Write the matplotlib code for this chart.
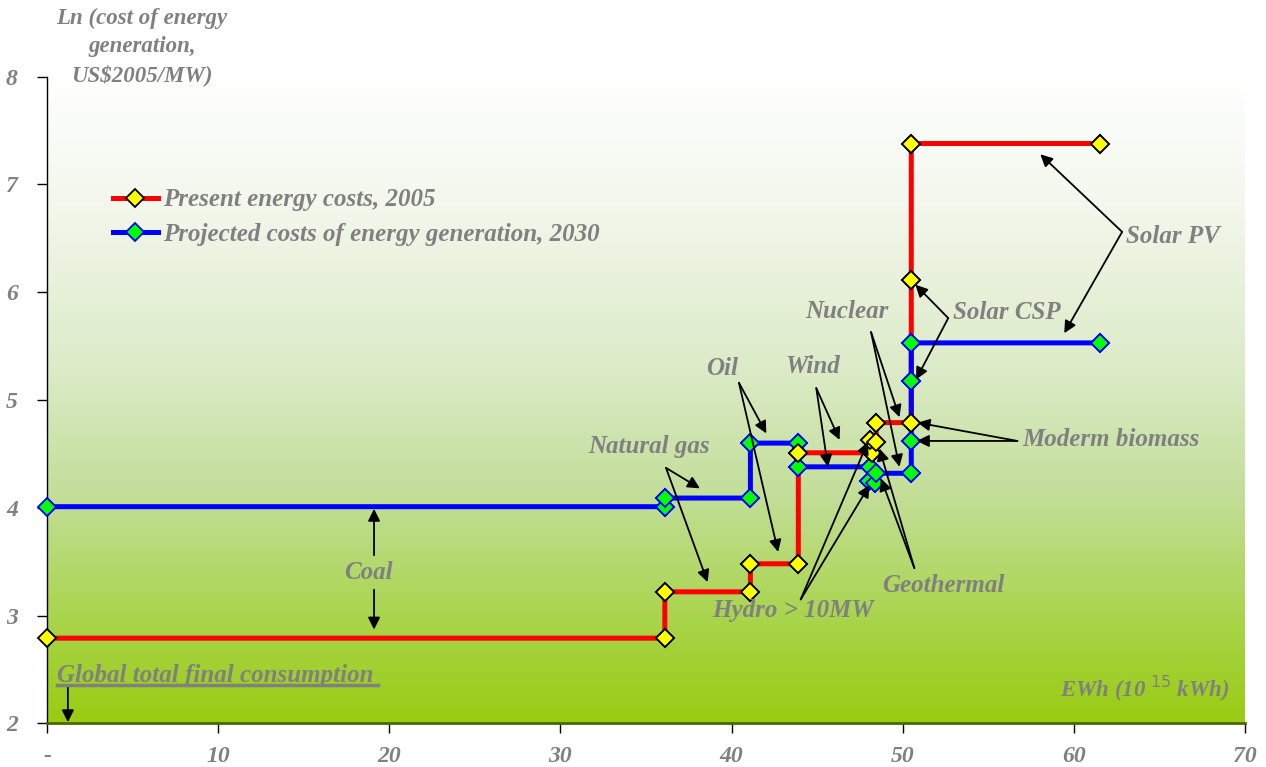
import numpy as np
import matplotlib
matplotlib.use("Agg")
import matplotlib.pyplot as plt
from matplotlib.colors import LinearSegmentedColormap
from matplotlib.lines import Line2D

# cumulative energy (EWh) and ln(cost) for each step of the supply curve
x_2005 = [0, 36.1, 36.1, 41.1, 41.1, 43.9, 43.9, 48.2, 48.1, 48.45, 48.45, 50.5, 50.5, 50.5, 61.55]
y_2005 = [2.79, 2.79, 3.22, 3.22, 3.48, 3.48, 4.51, 4.51, 4.63, 4.61, 4.79, 4.79, 6.11, 7.38, 7.38]

x_2030 = [0, 36.1, 36.1, 41.1, 41.1, 43.9, 43.9, 48.1, 48.05, 48.4, 48.45, 50.5, 50.5, 50.5, 50.5, 61.55]
y_2030 = [4.01, 4.01, 4.09, 4.09, 4.60, 4.60, 4.38, 4.38, 4.25, 4.23, 4.32, 4.32, 4.62, 5.18, 5.53, 5.53]

xticks = [0, 10, 20, 30, 40, 50, 60, 70]
xticklabels = ['-', '10', '20', '30', '40', '50', '60', '70']
yticks = [2, 3, 4, 5, 6, 7, 8]

GRAY = '#808080'
FONT = dict(family='Liberation Serif', weight='bold', style='italic', color=GRAY)

fig = plt.figure(figsize=(12.66, 7.67), dpi=100)
ax = fig.add_axes([47/1266, 1-723.3/767, 1198/1266, 646.6/767])

# background gradient (white -> yellow green)
cmap = LinearSegmentedColormap.from_list('bg', [(0.0, '#99cc11'), (0.15, '#a8d448'),
                                                (0.35, '#c2de98'), (0.55, '#dcebc8'),
                                                (0.8, '#f3f7ec'), (1.0, '#ffffff')])
grad = np.linspace(0, 1, 256).reshape(-1, 1)
ax.imshow(grad, extent=[0, 70, 2, 8], aspect='auto', cmap=cmap, origin='lower', zorder=0)

l1, = ax.plot(x_2005, y_2005, color='#ff0000', lw=3.6, zorder=2,
              marker='D', ms=9, mfc='#ffff00', mec='black', mew=1.3)
l2, = ax.plot(x_2030, y_2030, color='#0000ff', lw=3.6, zorder=2,
              marker='D', ms=9, mfc='#00ff00', mec='#0000ff', mew=1.3)
# markers on top of lines
ax.plot(x_2005, y_2005, ls='none', marker='D', ms=9, mfc='#ffff00', mec='black', mew=1.3,
        zorder=4, clip_on=False)
ax.plot(x_2030, y_2030, ls='none', marker='D', ms=9, mfc='#00ff00', mec='#0000ff', mew=1.3,
        zorder=3, clip_on=False)

ax.set_xlim(0, 70)
ax.set_ylim(2, 8)
ax.set_xticks(xticks)
ax.set_xticklabels(xticklabels)
ax.set_yticks(yticks)
for lab in ax.get_xticklabels() + ax.get_yticklabels():
    lab.set_fontfamily('Liberation Serif')
    lab.set_fontweight('bold')
    lab.set_fontstyle('italic')
    lab.set_color(GRAY)
    lab.set_fontsize(17)
ax.tick_params(axis='y', direction='out', length=7, width=1, pad=14)
ax.tick_params(axis='x', direction='out', length=7, width=1, pad=9)
for s in ['top', 'right']:
    ax.spines[s].set_visible(False)
ax.spines['left'].set_linewidth(1)
ax.spines['bottom'].set_color('#4d6600')
ax.spines['bottom'].set_linewidth(2)

leg = ax.legend([l1, l2], ['Present energy costs, 2005', 'Projected costs of energy generation, 2030'],
                loc='upper left', bbox_to_anchor=(0.036, 0.862), frameon=False,
                handlelength=1.8, handletextpad=0.2, labelspacing=0.45,
                prop=dict(family='Liberation Serif', weight='bold', style='italic', size=18))
for t in leg.get_texts():
    t.set_color(GRAY)

ap = dict(arrowstyle='-|>', color='black', lw=1.3, mutation_scale=18, shrinkA=0, shrinkB=0)

def label(text, xy, start, tips, **kw):
    ax.text(xy[0], xy[1], text, ha='center', va='center', fontsize=18, zorder=6, **FONT, **kw)
    for tip in tips:
        ax.annotate('', xy=tip, xytext=start, arrowprops=ap, zorder=5)

label('Solar PV', (65.8, 6.52), (62.82, 6.56), [(58.04, 7.28), (59.44, 5.62)])
label('Solar CSP', (56.1, 5.81), (52.66, 5.76), [(50.74, 6.07), (50.78, 5.19)])
label('Nuclear', (46.74, 5.82), (48.15, 5.63), [(49.81, 4.84), (49.81, 4.38)])
label('Wind', (44.76, 5.31), (44.95, 5.11), [(46.31, 4.63), (45.63, 4.38)])
label('Oil', (39.45, 5.29), (40.43, 5.16), [(42.03, 4.69), (42.72, 3.59)])
label('Natural gas', (35.2, 4.57), (36.17, 4.37), [(38.15, 4.18), (38.6, 3.31)])
label('Hydro > 10MW', (43.59, 3.05), (44.04, 3.15), [(47.96, 4.61), (48.06, 4.21)])
label('Geothermal', (52.4, 3.28), (50.68, 3.44), [(48.64, 4.55), (48.73, 4.27)])
label('Moderm biomass', (62.2, 4.63), (56.7, 4.62), [(50.87, 4.79), (50.83, 4.62)])

# coal: two vertical arrows
ax.text(18.76, 3.40, 'Coal', ha='center', va='center', fontsize=18, zorder=6, **FONT)
ax.annotate('', xy=(19.11, 3.99), xytext=(19.11, 3.56), arrowprops=ap, zorder=5)
ax.annotate('', xy=(19.11, 2.87), xytext=(19.11, 3.24), arrowprops=ap, zorder=5)

ax.text(0.58, 2.44, 'Global total final consumption', ha='left', va='center', fontsize=18, zorder=6, **FONT)
ax.add_line(Line2D([0.0083, 0.276], [0.059, 0.059], transform=ax.transAxes, color=GRAY, lw=2.5, zorder=6))
ax.annotate('', xy=(1.22, 2.01), xytext=(1.22, 2.34), arrowprops=ap, zorder=5)

ax.text(69.1, 2.32, r'EWh (10$^{\ 15}$ kWh)', ha='right', va='center', fontsize=16.5, zorder=6, **FONT)

fig.text(142/1266, 1-47/767, 'Ln (cost of energy\ngeneration,\nUS$2005/MW)', ha='center', va='center',
         fontsize=16.5, linespacing=1.45, **FONT)

fig.savefig('out.png', dpi=100)
